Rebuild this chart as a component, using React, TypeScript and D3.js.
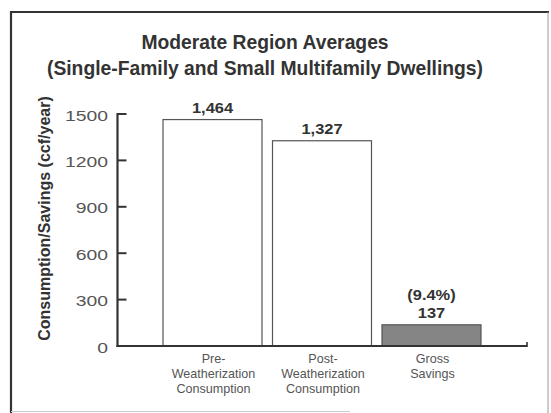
import React from "react";
import * as d3 from "d3";

const categories = ["pre", "post", "gross"];
const categoryLabels = [
  ["Pre-", "Weatherization", "Consumption"],
  ["Post-", "Weatherization", "Consumption"],
  ["Gross", "Savings"],
];
const values = [1464, 1327, 137];
const valueLabels = ["1,464", "1,327", "137"];
const extraLabels = ["", "", "(9.4%)"];
const barFills = ["#ffffff", "#ffffff", "#858585"];
const yTicks = [0, 300, 600, 900, 1200, 1500];
const titleLines = [
  "Moderate Region Averages",
  "(Single-Family and Small Multifamily Dwellings)",
];
const yAxisTitle = "Consumption/Savings (ccf/year)";

const W = 551;
const H = 413;
const FONT = "'Liberation Sans', Arial, Helvetica, sans-serif";

export default function App() {
  const y = d3.scaleLinear().domain([0, 1500]).range([346, 114]);
  const x = d3
    .scaleBand<string>()
    .domain(categories)
    .range([163, 481])
    .paddingInner(0.096)
    .paddingOuter(0);
  const axisX = 117.5;
  const baseY = y(0);

  return (
    <svg
      width={W}
      height={H}
      style={{ position: "absolute", left: 0, top: 0, background: "#fff" }}
      fontFamily={FONT}
    >
      <rect x={0} y={0} width={W} height={H} fill="#fff" />
      {/* frame */}
      <line x1={11} y1={12} x2={549} y2={12} stroke="#333" strokeWidth={2} />
      <line x1={11} y1={11} x2={11} y2={H} stroke="#333" strokeWidth={2.2} />
      <line x1={548} y1={12} x2={548} y2={H} stroke="#999" strokeWidth={1} />
      <line x1={11} y1={411.5} x2={350} y2={411.5} stroke="#ccc" strokeWidth={1} />

      {/* title */}
      {titleLines.map((t, i) => (
        <text
          key={t}
          x={265}
          y={49 + i * 26}
          textAnchor="middle"
          fontSize={19.3}
          fontWeight="bold"
          fill="#333"
        >
          {t}
        </text>
      ))}

      {/* y axis title */}
      <text
        transform={`translate(50,218.5) rotate(-90)`}
        textAnchor="middle"
        fontSize={16}
        fontWeight="bold"
        fill="#333"
      >
        {yAxisTitle}
      </text>

      {/* bars */}
      {categories.map((c, i) => (
        <rect
          key={c}
          x={x(c)!}
          y={y(values[i])}
          width={x.bandwidth()}
          height={baseY - y(values[i])}
          fill={barFills[i]}
          stroke="#555"
          strokeWidth={1.2}
        />
      ))}

      {/* axes */}
      <line x1={axisX} y1={y(1500) - 1} x2={axisX} y2={baseY + 1} stroke="#333" strokeWidth={2.2} />
      {yTicks.map((t) => (
        <g key={t}>
          <line x1={axisX} y1={y(t)} x2={axisX + 9} y2={y(t)} stroke="#333" strokeWidth={2} />
          <text
            transform={`translate(108,${y(t) + 6.5}) scale(1.38,1)`}
            textAnchor="end"
            fontSize={14}
            fill="#555"
          >
            {t}
          </text>
        </g>
      ))}
      <line x1={axisX - 1} y1={baseY} x2={527} y2={baseY} stroke="#333" strokeWidth={2.2} />
      <line x1={527} y1={baseY + 1} x2={527} y2={baseY - 4} stroke="#333" strokeWidth={1.6} />

      {/* value labels */}
      {categories.map((c, i) => {
        const cx = x(c)! + x.bandwidth() / 2;
        return (
          <g key={c}>
            <text
              transform={`translate(${cx},${y(values[i]) - 7}) scale(1.06,1)`}
              textAnchor="middle"
              fontSize={15.5}
              fontWeight="bold"
              fill="#333"
            >
              {valueLabels[i]}
            </text>
            {extraLabels[i] && (
              <text
                transform={`translate(${cx},${y(values[i]) - 25}) scale(1.06,1)`}
                textAnchor="middle"
                fontSize={15.5}
                fontWeight="bold"
                fill="#333"
              >
                {extraLabels[i]}
              </text>
            )}
          </g>
        );
      })}

      {/* category labels */}
      {categories.map((c, i) => {
        const cx = x(c)! + x.bandwidth() / 2 + 1;
        return (
          <g key={c}>
            {categoryLabels[i].map((l, j) => (
              <text
                key={j}
                transform={`translate(${cx},${363 + j * 15}) scale(1.03,1)`}
                textAnchor="middle"
                fontSize={12.2}
                fill="#555"
              >
                {l}
              </text>
            ))}
          </g>
        );
      })}
    </svg>
  );
}
